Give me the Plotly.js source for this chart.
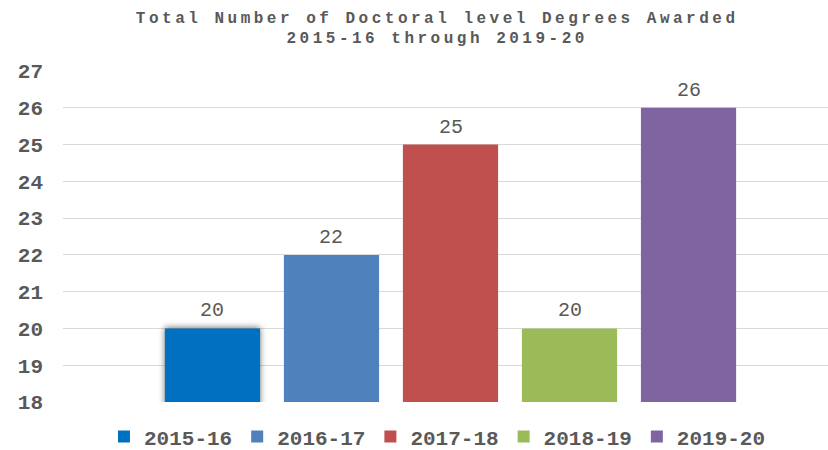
<!DOCTYPE html>
<html>
<head>
<meta charset="utf-8">
<script src="https://cdn.plot.ly/plotly-3.0.1.min.js"></script>
<style>
  html, body { margin: 0; padding: 0; background: #fff; }
  #chart { width: 828px; height: 450px; }
  #chart .gtitle { letter-spacing: 3.5px; }
  #chart .barlayer .trace:first-child .point path { filter: drop-shadow(0 -1px 3px rgba(0,0,0,0.55)); }
</style>
</head>
<body>
<div id="chart"></div>
<script>
// Data
const years = ["2015-16", "2016-17", "2017-18", "2018-19", "2019-20"];
const degrees = [20, 22, 25, 20, 26];
const colors = ["#0070C0", "#4F81BD", "#C0504D", "#9BBB59", "#8064A2"];
const yTicks = [18, 19, 20, 21, 22, 23, 24, 25, 26, 27];

const FONT = "'Liberation Mono', 'Courier New', monospace";

const traces = years.map((yr, i) => ({
  type: "bar",
  name: yr,
  x: [yr],
  y: [degrees[i]],
  marker: { color: colors[i] },
  hoverinfo: "x+y"
}));

const annotations = years.map((yr, i) => ({
  x: yr,
  y: degrees[i],
  xref: "x",
  yref: "y",
  text: String(degrees[i]),
  showarrow: false,
  yanchor: "bottom",
  yshift: 4,
  font: { family: FONT, size: 20, color: "#595959" }
}));

const layout = {
  width: 828,
  height: 450,
  margin: { l: 63, r: 0, t: 71, b: 48, pad: 0, autoexpand: false },
  paper_bgcolor: "#ffffff",
  plot_bgcolor: "#ffffff",
  barmode: "overlay",
  bargap: 0.2,
  title: {
    text: "<b>Total Number of Doctoral level Degrees Awarded<br>2015-16 through 2019-20</b>",
    font: { family: FONT, size: 16, color: "#595959" },
    x: 0.528,
    xref: "container",
    xanchor: "center",
    yref: "container",
    y: 0.95,
    yanchor: "middle"
  },
  xaxis: {
    type: "category",
    range: [-1.256, 5.172],
    showticklabels: false,
    showgrid: false,
    zeroline: false,
    showline: false,
    ticks: ""
  },
  yaxis: {
    range: [18, 27],
    tickvals: yTicks,
    ticktext: yTicks.map(String),
    showgrid: true,
    gridcolor: "#D9D9D9",
    gridwidth: 1,
    zeroline: false,
    showline: false,
    ticks: "",
    ticklabelstandoff: 19,
    tickfont: { family: FONT, size: 21, color: "#595959", weight: "bold" }
  },
  showlegend: true,
  legend: {
    orientation: "h",
    x: 0.4895,
    xanchor: "center",
    yref: "container",
    y: 0.029,
    yanchor: "middle",
    font: { family: FONT, size: 21, color: "#595959", weight: "bold" },
    itemclick: false,
    itemdoubleclick: false,
    traceorder: "normal"
  },
  annotations: annotations
};

Plotly.newPlot("chart", traces, layout, { displayModeBar: false, staticPlot: true });
</script>
</body>
</html>
